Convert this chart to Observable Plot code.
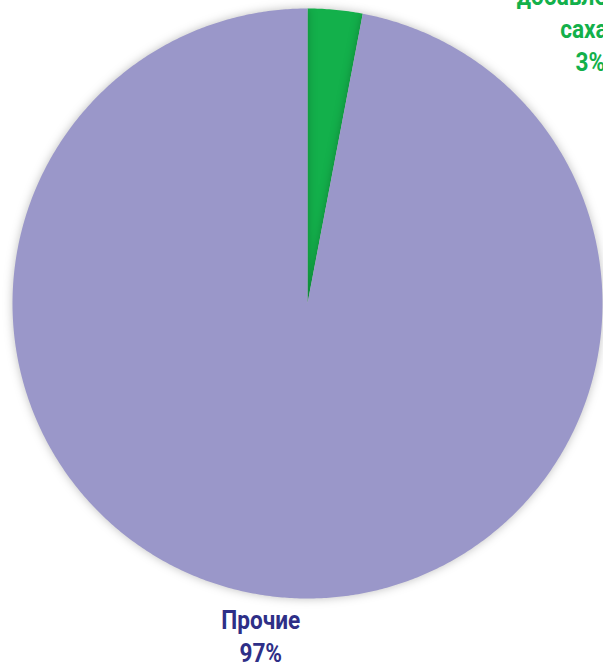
<!DOCTYPE html>
<html>
<head>
<meta charset="utf-8">
<script src="https://cdn.jsdelivr.net/npm/d3@7"></script>
<script src="https://cdn.jsdelivr.net/npm/@observablehq/plot@0.6"></script>
<style>
  html, body { margin: 0; padding: 0; background: #fff; }
  #chart { width: 603px; height: 665px; overflow: hidden; }
</style>
</head>
<body>
<div id="chart"></div>
<script>
const categories = ["добавленный сахар", "Прочие"];
const values = [3, 97];
const labels = ["добавленный\nсахар\n3%", "Прочие\n97%"];
const sliceColors = ["#13b04b", "#9a97c9"];
const labelColors = ["#13b04b", "#2e2f87"];

const arcs = d3.pie().sort(null)(values);
const pts = [];
arcs.forEach((a, i) => {
  pts.push({cat: categories[i], x: 0, y: 0});
  const n = Math.max(4, Math.ceil((a.endAngle - a.startAngle) * 120));
  for (let k = 0; k <= n; k++) {
    const t = a.startAngle + (a.endAngle - a.startAngle) * k / n;
    pts.push({cat: categories[i], x: Math.sin(t), y: Math.cos(t)});
  }
  pts.push({cat: categories[i], x: 0, y: 0});
});
const mids = arcs.map((a, i) => {
  const m = (a.startAngle + a.endAngle) / 2;
  return {cat: categories[i], label: labels[i], color: labelColors[i], x: Math.sin(m), y: Math.cos(m)};
});

const font = "'Roboto', sans-serif";
const chart = Plot.plot({
  width: 603,
  height: 665,
  margin: 0,
  style: {background: "#fff", overflow: "hidden"},
  x: {domain: [-1, 1], range: [12, 602], axis: null},
  y: {domain: [-1, 1], range: [598, 8], axis: null},
  color: {domain: categories, range: sliceColors},
  marks: [
    Plot.line(pts, {x: "x", y: "y", z: "cat", fill: "cat", stroke: "none", curve: "linear"}),
    Plot.text([mids[0]], {x: "x", y: "y", text: "label", fill: "color", dx: 255, dy: -28,
      lineAnchor: "top", textAnchor: "middle", fontSize: 26, fontWeight: "bold", fontFamily: font, lineHeight: 1.27}),
    Plot.text([mids[1]], {x: "x", y: "y", text: "label", fill: "color", dx: -19, dy: 8,
      lineAnchor: "top", textAnchor: "middle", fontSize: 26, fontWeight: "bold", fontFamily: font, lineHeight: 1.27})
  ]
});
chart.querySelectorAll("g[aria-label='line'] path").forEach(p => {
  p.style.filter = "drop-shadow(0 0 5px rgba(0,0,0,0.25))";
});
chart.querySelectorAll("g[aria-label='text'] text").forEach(t => {
  const tr = t.getAttribute("transform") || "";
  t.setAttribute("transform", tr + " scale(0.87,1)");
});
document.getElementById("chart").appendChild(chart);
</script>
</body>
</html>
